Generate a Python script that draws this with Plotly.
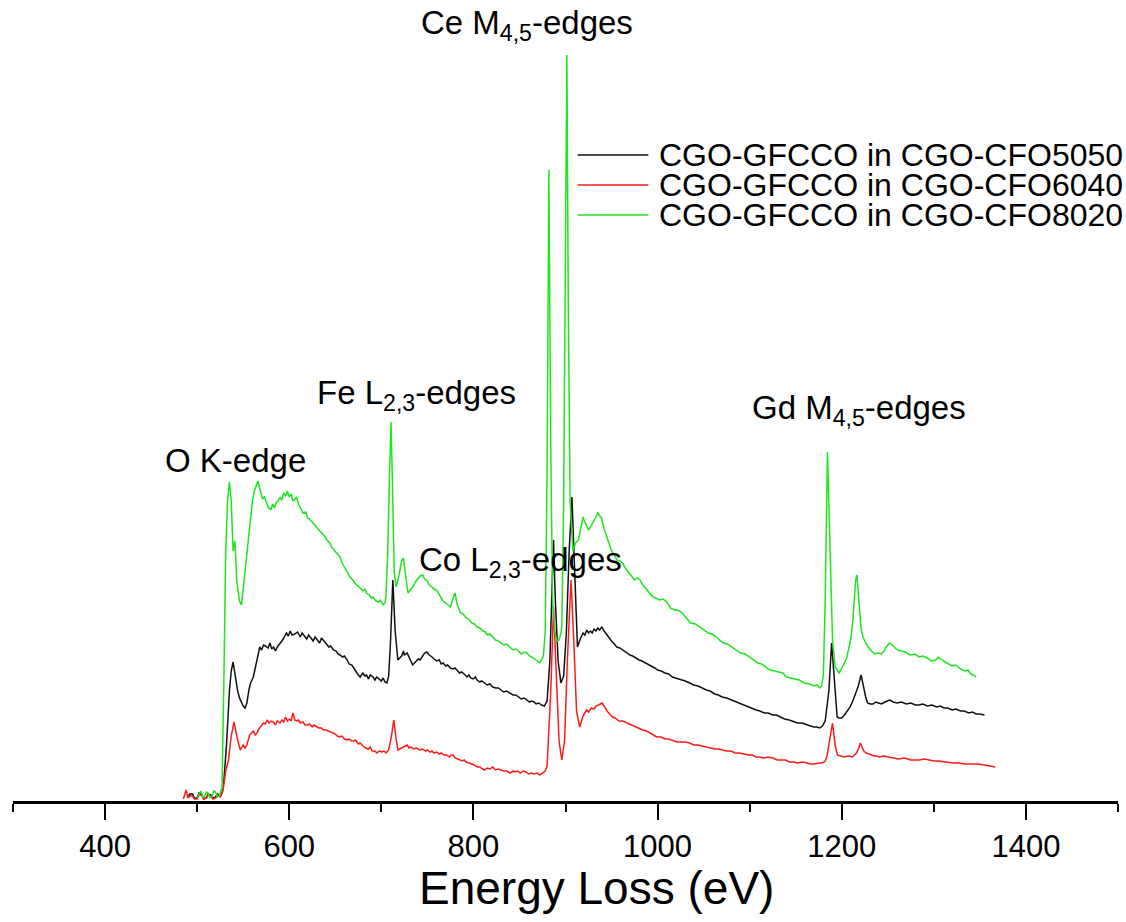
import plotly.graph_objects as go

# ---------------- data (energy loss in eV, intensity in arbitrary units) ----------------
series_names = [
    "CGO-GFCCO in CGO-CFO5050",
    "CGO-GFCCO in CGO-CFO6040",
    "CGO-GFCCO in CGO-CFO8020",
]
series_colors = ["#111111", "#ff1a1a", "#1ee61e"]

cfo5050 = [
    (490, 4), (492, 7), (495, 7), (497, 3), (500, 3), (502, 8), (505, 6), (507, 2), (510, 3), (512, 7),
    (515, 6), (517, 3), (520, 4), (522, 7), (525, 5), (527, 8), (529, 20), (532, 58), (535, 110), (537, 130),
    (539, 139), (541, 128), (542, 120), (544, 110), (546, 103), (548, 98), (550, 95), (552, 93), (554, 98), (556, 110),
    (558, 118), (561, 124), (563, 133), (565, 140), (567, 150), (568, 154), (570, 151), (572, 156), (574, 155), (577, 153),
    (579, 158), (581, 152), (583, 154), (585, 150), (587, 154), (590, 157), (592, 160), (594, 163), (597, 168), (599, 165),
    (601, 170), (603, 166), (606, 167), (609, 169), (612, 164), (614, 168), (616, 166), (619, 162), (621, 166), (623, 164),
    (626, 160), (628, 164), (630, 162), (633, 158), (635, 163), (637, 161), (640, 157), (643, 154), (645, 155), (648, 151),
    (651, 150), (653, 147), (655, 146), (658, 144), (660, 145), (663, 141), (665, 137), (668, 136), (670, 133), (673, 128),
    (675, 126), (677, 124), (680, 128), (682, 125), (684, 126), (686, 122), (688, 126), (691, 124), (693, 121), (695, 124),
    (698, 122), (700, 120), (702, 123), (704, 119), (706, 118), (708, 125), (710, 160), (712.5, 221), (715, 170), (718, 141),
    (720, 143), (722, 145), (724, 150), (725, 146), (728, 148), (731, 141), (734, 136), (737, 139), (740, 142), (742, 141),
    (745, 146), (747, 148), (749.5, 149), (752, 146), (755, 144), (757, 142), (760, 140), (763, 141), (765, 137), (767, 138),
    (770, 135), (772, 136), (775, 133), (778, 132), (780, 133), (782, 131), (785, 128), (787, 129), (790, 127), (793, 124),
    (795, 126), (797, 123), (800, 122), (802, 124), (804, 121), (807, 119), (809, 120), (812, 118), (815, 116), (818, 117),
    (821, 114), (824, 113), (827, 113), (830, 111), (833, 109), (836, 110), (840, 108), (843, 106), (846, 106), (849, 104),
    (852, 102), (855, 103), (858, 101), (861, 99), (863, 100), (866, 99), (868, 97), (871, 98), (874, 96), (877, 95),
    (880, 100), (883, 140), (885, 200), (887, 261), (889, 200), (892, 140), (895, 118), (898, 125), (901, 170), (904, 250),
    (907, 304), (910, 230), (913, 154), (916, 162), (919, 168), (921, 166), (923, 171), (925, 168), (927, 170), (929, 168),
    (931, 172), (933, 170), (935, 173), (937, 171), (939.5, 174), (942, 170), (945, 166), (948, 163), (950, 160), (953, 157),
    (955.7, 154), (959, 153), (962, 151), (966, 149), (970, 146), (973, 145), (976, 143), (980, 141), (983, 140), (987, 138),
    (990, 137), (994, 135), (997, 133), (1000, 131), (1004, 130), (1008, 128), (1012, 127), (1016, 124), (1020, 123), (1025, 121),
    (1030, 120), (1035, 118), (1039, 116), (1044, 115), (1048, 113), (1053, 111), (1057, 110), (1062, 107), (1066, 106), (1070, 104),
    (1075, 103), (1080, 101), (1084, 100), (1089, 98), (1093, 96), (1098, 94), (1102, 93), (1107, 91), (1111, 90), (1116, 88),
    (1120, 88), (1125, 86), (1129, 86), (1133, 84), (1138, 82), (1143, 81), (1147, 80), (1152, 78), (1157, 78), (1162, 76),
    (1166, 75), (1170, 74), (1173, 74), (1176, 73), (1179, 75), (1182, 80), (1186, 110), (1189, 158), (1192, 120), (1195, 84),
    (1197, 83), (1200, 83), (1203, 86), (1206, 90), (1209, 94), (1212, 100), (1215, 107), (1218, 115), (1221, 126), (1224, 112),
    (1226, 104), (1228, 98), (1231, 97), (1234, 97), (1237, 99), (1240, 98), (1243, 97), (1247, 99), (1250, 100), (1252, 101),
    (1256, 99), (1260, 98), (1265, 99), (1270, 97), (1275, 98), (1280, 96), (1284, 96), (1288, 97), (1293, 95), (1298, 96),
    (1303, 94), (1307, 95), (1311, 93), (1315, 93), (1320, 91), (1324, 92), (1329, 90), (1333, 90), (1338, 88), (1342, 89),
    (1346, 87), (1350, 87), (1355, 86),
]

cfo6040 = [
    (485, 2), (488, 11), (490, 3), (492, 5), (495, 5), (497, 2), (500, 2), (502, 6), (505, 6), (507, 2),
    (510, 3), (512, 6), (515, 5), (517, 2), (520, 3), (522, 6), (525, 4), (528, 10), (531, 30), (534, 41),
    (537, 65), (540, 79), (542, 70), (543, 65), (545, 57), (547, 51), (549, 54), (550, 56), (552, 53), (554, 56),
    (557, 66), (559, 68), (561, 70), (563, 66), (565, 68), (567, 72), (570, 75), (572, 78), (574, 77), (576, 81),
    (578, 78), (580, 80), (583, 79), (585, 76), (587, 80), (590, 78), (592, 81), (594, 79), (596, 84), (598, 80),
    (600, 82), (602, 80), (604, 88), (606, 81), (608, 80), (610, 81), (612, 78), (615, 79), (617, 76), (620, 76),
    (622, 77), (625, 74), (627, 76), (630, 74), (632, 73), (635, 73), (637, 71), (640, 71), (642, 70), (645, 69),
    (647.5, 68), (650, 67), (652, 65), (655, 64), (657, 65), (660, 62), (663, 61), (665, 62), (668, 60), (670, 60),
    (672, 61), (675, 57), (677, 58), (680, 55), (683, 53), (686, 52), (688, 54), (690, 50), (693, 50), (695, 48),
    (698, 50), (700, 49), (703, 50), (705, 48), (708, 51), (711, 65), (713.5, 81), (716, 62), (718, 51), (720, 52),
    (722, 53), (725, 55), (728, 56), (730, 53), (732, 54), (735, 52), (738, 53), (742, 51), (745, 52), (748, 50),
    (750, 51), (753, 49), (755, 50), (757, 48), (760, 49), (763, 47), (765, 48), (768, 46), (771, 46), (774, 44),
    (776, 46), (778, 46), (780, 43), (783, 42), (785, 41), (788, 40), (790, 41), (792, 39), (795, 38), (798, 37),
    (801, 36), (804, 34), (807, 34), (810, 32), (812, 31), (815, 33), (818, 32), (821, 34), (824, 31), (827, 32),
    (830, 31), (833, 30), (836, 30), (840, 28), (843, 30), (845, 29), (848, 30), (851, 28), (854, 30), (857, 29),
    (860, 27), (863, 28), (866, 27), (869, 28), (872, 26), (875, 28), (878, 30), (880, 35), (884, 110), (887, 194),
    (890, 120), (893, 60), (896, 41), (899, 60), (902, 140), (906, 221), (909, 160), (912, 90), (915.4, 74), (917, 80),
    (919, 85), (921, 88), (923, 91), (925, 89), (928, 93), (931, 92), (933, 95), (936, 96), (939.5, 98), (942, 95),
    (945, 90), (948, 87), (951, 84), (954, 83), (958, 80), (962, 80), (966.5, 78), (970, 77), (975, 75), (979, 73),
    (983.9, 71), (988, 70), (992, 68), (995, 66), (999, 64), (1004, 64), (1008, 62), (1012, 62), (1016, 61), (1021, 59),
    (1026, 59), (1030, 59), (1035, 58), (1039, 56), (1044, 56), (1048, 55), (1053, 54), (1057, 53), (1062, 52), (1066, 52),
    (1070, 51), (1075, 50), (1080, 50), (1084, 48), (1089, 48), (1094, 47), (1099, 46), (1103, 46), (1107, 44), (1111, 44),
    (1116, 43), (1120, 44), (1125, 43), (1130, 41), (1135, 41), (1139, 41), (1143, 39), (1147, 39), (1152, 38), (1157, 39),
    (1162, 38), (1166, 37), (1170, 37), (1175, 38), (1179, 38), (1182, 40), (1184, 45), (1186.5, 60), (1189.9, 78), (1193, 55),
    (1195.3, 46), (1199, 45), (1203, 44), (1207, 45), (1211.6, 44), (1214, 46), (1216, 48), (1218, 52), (1220.2, 58), (1222, 54),
    (1224, 50), (1226.7, 48), (1230, 47), (1235, 45), (1238, 45), (1240.8, 44), (1245, 45), (1250, 44), (1255, 43), (1262, 42),
    (1268, 43), (1275, 41), (1284, 41), (1290, 42), (1300, 40), (1306, 40), (1313, 39), (1320, 38), (1327, 38), (1334, 37),
    (1340, 37), (1347, 37), (1355, 36), (1360, 35), (1366.6, 34),
]

cfo8020 = [
    (500, 3), (502, 7), (504, 10), (506, 4), (508, 4), (510, 9), (512, 8), (514, 3), (516, 4), (518, 10),
    (520, 9), (522, 4), (524, 5), (526, 11), (527, 12), (529, 120), (531, 250), (533, 300), (535, 319), (537, 300),
    (539, 250), (541, 260), (543, 220), (546, 200), (548, 196), (550, 212), (552, 230), (554, 248), (556, 270), (558, 286),
    (560, 300), (562, 310), (564, 316), (566, 320), (567, 316), (569, 308), (571, 302), (573, 304), (575, 298), (577, 294),
    (580, 291), (582, 297), (584, 293), (586, 299), (588, 300), (590, 304), (592, 301), (594, 308), (596, 305), (598, 310),
    (600, 304), (602, 307), (604, 300), (606, 302), (608, 304), (610, 297), (613, 292), (615, 288), (618, 289), (620, 283),
    (622, 282), (625, 279), (628, 276), (630, 274), (633, 271), (636, 268), (639, 264), (641, 261), (644, 258), (646, 254),
    (648, 252), (651, 248), (653, 246), (655, 244), (658, 237), (661, 232), (664, 228), (666, 224), (669, 221), (672, 217),
    (675, 215), (677, 213), (680, 210), (682, 212), (684, 208), (687, 206), (689, 203), (691, 204), (694, 200), (697, 199),
    (699, 201), (702, 196), (704, 198), (705, 205), (707, 250), (709, 330), (710.5, 379), (712, 320), (714, 230), (716, 214),
    (719, 225), (722, 240), (724, 243), (726, 228), (727, 220), (729, 208), (732, 212), (735, 215), (737, 219), (740, 222),
    (742, 225), (745, 226), (747, 222), (750, 220), (752, 216), (755, 214), (757, 212), (760, 211), (763, 206), (765, 203),
    (767, 200), (770, 198), (772, 196), (775, 194), (778, 203), (780, 208), (782, 198), (784, 192), (786, 188), (789, 187),
    (792, 183), (795, 182), (798, 178), (801, 177), (804, 174), (807, 173), (810, 170), (812, 170), (815, 166), (818, 167),
    (821, 164), (824, 161), (827, 160), (830, 158), (833, 156), (836, 157), (840, 154), (843, 151), (846, 152), (849, 150),
    (852, 147), (855, 149), (858, 148), (861, 145), (865, 143), (868, 141), (870, 140), (872, 138), (874, 141), (876, 145),
    (878, 170), (880, 330), (882, 631), (884, 350), (886, 200), (889, 165), (891, 160), (893, 161), (895, 168), (896, 175),
    (898, 300), (900, 600), (901.5, 746), (903, 500), (905, 300), (908, 250), (911, 258), (914, 261), (917, 276), (919, 284),
    (921, 279), (923, 275), (925, 271), (927, 274), (929, 277), (931, 280), (933, 284), (935, 288), (937, 286), (939, 283),
    (942, 272), (945, 264), (948, 256), (950, 250), (953, 246), (956, 241), (959, 240), (962, 238), (965, 233), (969, 228),
    (972, 225), (975, 221), (978, 223), (981, 221), (984, 216), (988, 212), (991, 208), (995, 204), (998, 203), (1002, 201),
    (1006, 202), (1010, 199), (1014, 193), (1018, 191), (1022, 191), (1027, 188), (1031, 183), (1036, 178), (1041, 177), (1046, 174),
    (1050, 171), (1055, 168), (1059, 167), (1064, 164), (1068, 160), (1072, 158), (1076, 157), (1081, 154), (1085, 151), (1090, 148),
    (1095, 147), (1100, 144), (1104, 141), (1109, 138), (1113, 137), (1118, 134), (1122, 131), (1127, 130), (1131, 129), (1136, 128),
    (1140, 124), (1145, 123), (1149, 122), (1154, 121), (1159, 118), (1165, 117), (1170, 115), (1173, 116), (1176, 113), (1178, 115),
    (1180, 125), (1182, 200), (1184.5, 349), (1187, 250), (1190, 160), (1193, 134), (1195, 131), (1197, 128), (1199, 131), (1202, 136),
    (1205, 142), (1207, 150), (1210, 163), (1212, 180), (1215, 220), (1216.5, 226), (1219, 190), (1221, 172), (1223, 164), (1226, 158),
    (1228, 155), (1231, 151), (1233, 149), (1236, 147), (1240, 148), (1243, 147), (1246, 150), (1249, 155), (1252, 158), (1255, 156),
    (1258, 153), (1261, 151), (1265, 150), (1269, 149), (1274, 146), (1279, 147), (1284, 144), (1288, 145), (1293, 143), (1297, 140),
    (1302, 141), (1305, 144), (1309, 141), (1312, 139), (1316, 137), (1320, 135), (1324, 136), (1328, 133), (1331, 131), (1334, 130),
    (1337, 131), (1340, 127), (1343, 126), (1346, 124),
]

x_tick_vals = [400, 600, 800, 1000, 1200, 1400]
x_title = "Energy Loss (eV)"

edge_labels = ["O K-edge", "Fe L<sub>2,3</sub>-edges", "Co L<sub>2,3</sub>-edges",
               "Ce M<sub>4,5</sub>-edges", "Gd M<sub>4,5</sub>-edges"]
edge_label_E = [542, 738, 851, 858, 1219]
edge_label_I = [341, 406, 239, 776, 391]

FONT = "Arial, Liberation Sans, sans-serif"

fig = go.Figure()
for name, col, data in zip(series_names, series_colors, [cfo5050, cfo6040, cfo8020]):
    E = [p[0] for p in data]
    I = [p[1] for p in data]
    fig.add_trace(go.Scatter(x=E, y=I, mode="lines", name=name,
                             line=dict(color=col, width=1.5), showlegend=False))

# edge labels
for t, ex, ey in zip(edge_labels, edge_label_E, edge_label_I):
    fig.add_annotation(x=ex, y=ey, xref="x", yref="y", text=t, showarrow=False,
                       font=dict(family=FONT, size=33, color="#000"))

# Origin-style legend: long line sample, tight rows
leg_top = 0.8065
leg_step = 0.0375
for i, (name, col) in enumerate(zip(series_names, series_colors)):
    yy = leg_top - i * leg_step
    fig.add_shape(type="line", xref="paper", yref="paper", x0=0.511, x1=0.575, y0=yy, y1=yy,
                  line=dict(color=col, width=1.6))
    fig.add_annotation(x=0.583, y=yy, xref="paper", yref="paper", xanchor="left", yanchor="middle",
                       text=name, showarrow=False, font=dict(family=FONT, size=32, color="#000"))

# axis title (sits slightly right of centre in the original)
fig.add_annotation(x=0.5285, y=-0.108, xref="paper", yref="paper", xanchor="center", yanchor="middle",
                   text=x_title, showarrow=False, font=dict(family=FONT, size=46, color="#000"))

fig.update_layout(
    width=1126, height=922,
    margin=dict(l=13, r=8, t=0, b=121),
    paper_bgcolor="white", plot_bgcolor="white",
    font=dict(family=FONT, color="#000"),
    xaxis=dict(range=[300, 1500], tickvals=x_tick_vals, showgrid=False, zeroline=False,
               showline=True, linecolor="#000", linewidth=2.5,
               ticks="outside", ticklen=16, tickwidth=2, tickcolor="#000",
               tickfont=dict(family=FONT, size=31, color="#000"),
               minor=dict(dtick=200, tick0=300, ticks="outside", ticklen=8, tickwidth=2, tickcolor="#000")),
    yaxis=dict(range=[0, 801], visible=False),
    showlegend=False,
)

fig.write_html("out.html")
